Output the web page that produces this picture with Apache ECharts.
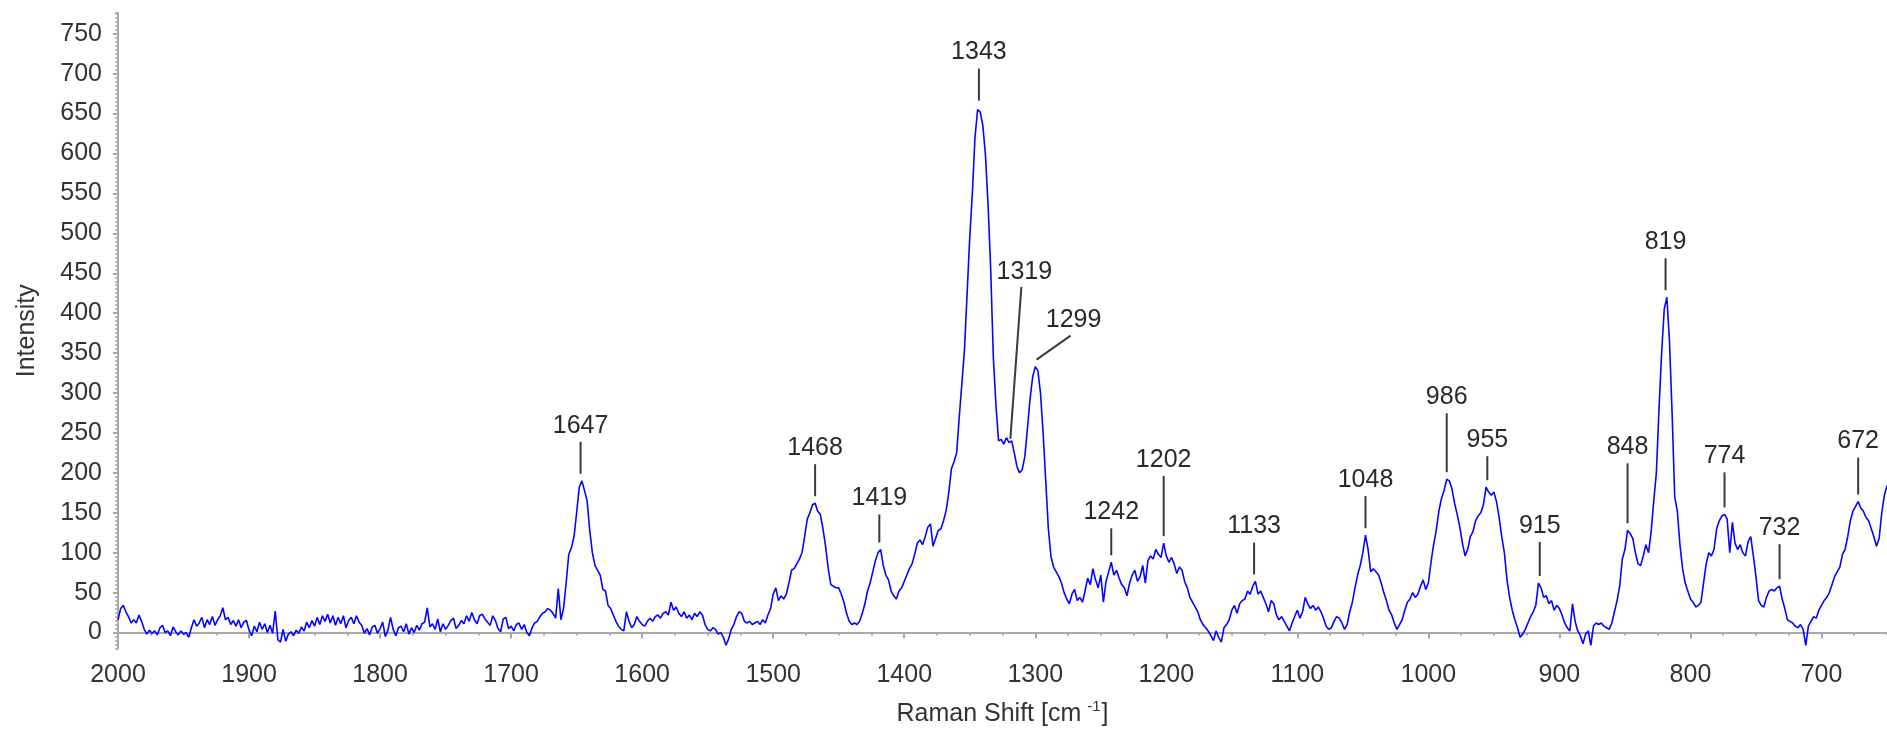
<!DOCTYPE html>
<html>
<head>
<meta charset="utf-8">
<title>Raman spectrum</title>
<script src="https://cdn.jsdelivr.net/npm/echarts@6/dist/echarts.min.js"></script>
<style>
  html, body { margin: 0; padding: 0; background: #ffffff; overflow: hidden; }
  #chart { width: 1887px; height: 732px; }
</style>
</head>
<body>
<div id="chart"></div>
<script>
// Spectrum sampled every 2 cm-1, running from high to low Raman shift.
const SHIFT_START = 2000;
const SHIFT_STEP = 2;

// 2000 -> 1702 cm-1 (flat, noisy baseline)
const intensity2000to1702 = [
  16, 30, 34, 26, 20, 12, 16, 12, 22, 14,
  4, -2, 3, -1, 2, -3, 6, 9, 0, 2,
  -4, 7, 1, -3, 2, -2, 0, -6, 6, 16,
  8, 12, 19, 6, 16, 10, 20, 9, 16, 21,
  31, 16, 19, 10, 15, 8, 16, 6, 13, 15,
  3, -4, 8, 1, 13, 4, 11, 0, 9, -1,
  27, -9, -12, 4, -11, -2, 1, -4, 3, -1,
  7, 2, 13, 6, 15, 8, 19, 10, 21, 14,
  23, 12, 21, 9, 19, 11, 21, 6, 15, 19,
  11, 21, 13, 9, -1, 5, -3, 7, 9, -1,
  5, 13, -5, 3, 19, 4, -4, 6, 8, 1,
  11, -2, 6, 0, 9, 3, 11, 13, 31, 7,
  11, 4, 17, 1, 11, 4, 9, 15, 18, 5,
  9, 15, 11, 21, 14, 25, 16, 11, 21, 23,
  17, 13, 9, 21, 15, 5, 1, 17, 19, 5
];

// 1700 -> 1402 cm-1 (amide I, CH2 bending)
const intensity1700to1402 = [
  8, 2, 10, 12, 4, 10, 0, -4, 6, 12,
  14, 20, 24, 26, 30, 28, 24, 18, 55, 16,
  30, 62, 98, 106, 120, 150, 182, 190, 178, 165,
  128, 100, 84, 78, 72, 54, 52, 34, 30, 22,
  14, 8, 4, 2, 26, 14, 6, 10, 20, 14,
  10, 8, 14, 18, 14, 20, 22, 18, 24, 26,
  22, 38, 28, 32, 24, 20, 26, 18, 22, 16,
  24, 20, 26, 22, 10, 4, 2, 6, 4, -2,
  0, -6, -16, -8, 4, 10, 20, 26, 24, 14,
  12, 14, 10, 12, 14, 10, 16, 12, 22, 30,
  48, 56, 40, 46, 42, 48, 62, 78, 80, 86,
  92, 100, 120, 142, 150, 160, 162, 152, 148, 130,
  108, 80, 60, 58, 56, 56, 48, 38, 24, 14,
  10, 12, 10, 14, 24, 36, 52, 62, 76, 90,
  100, 104, 84, 72, 66, 52, 46, 42, 52, 56
];

// 1400 -> 1102 cm-1 (main band at 1343 and its shoulders)
const intensity1400to1102 = [
  64, 72, 80, 86, 98, 112, 116, 110, 120, 132,
  136, 108, 118, 128, 130, 140, 153, 175, 205, 214,
  225, 270, 312, 355, 425, 495, 550, 620, 655, 652,
  635, 598, 535, 455, 345, 285, 240, 242, 236, 244,
  238, 240, 225, 208, 200, 204, 220, 255, 292, 320,
  333, 328, 300, 250, 190, 130, 95, 82, 76, 70,
  62, 50, 42, 36, 48, 54, 40, 44, 38, 52,
  68, 60, 80, 66, 56, 72, 38, 64, 76, 88,
  72, 78, 68, 60, 56, 46, 62, 72, 78, 64,
  70, 84, 62, 90, 96, 92, 104, 98, 94, 112,
  96, 88, 94, 86, 74, 82, 78, 64, 56, 44,
  38, 32, 26, 16, 10, 6, 2, -4, -10, 2,
  -6, -12, 6, 10, 16, 28, 34, 24, 36, 40,
  42, 52, 48, 58, 64, 48, 52, 44, 36, 26,
  40, 36, 22, 16, 20, 14, 8, 2, 12, 20
];

// 1100 -> 802 cm-1
const intensity1100to802 = [
  28, 18, 26, 44, 36, 30, 34, 28, 32, 26,
  18, 8, 4, 6, 14, 20, 18, 12, 4, 10,
  26, 38, 56, 72, 84, 100, 122, 104, 76, 80,
  76, 72, 62, 50, 40, 28, 22, 12, 4, 10,
  16, 28, 38, 42, 50, 44, 48, 58, 66, 54,
  62, 88, 110, 128, 152, 168, 178, 192, 190, 180,
  162, 148, 132, 112, 96, 104, 120, 126, 140, 146,
  150, 160, 182, 176, 172, 176, 164, 144, 120, 100,
  66, 44, 28, 16, 6, -6, -2, 4, 12, 20,
  26, 34, 62, 56, 44, 46, 36, 40, 28, 34,
  30, 22, 12, 6, 2, 36, 14, 2, -4, -14,
  -2, 2, -16, 8, 12, 10, 12, 8, 6, 4,
  12, 26, 40, 58, 92, 104, 128, 124, 118, 100,
  86, 84, 96, 110, 100, 126, 165, 200, 280, 350,
  405, 420, 365, 275, 170, 152, 110, 80, 62, 52
];

// 800 -> 650 cm-1
const intensity800to650 = [
  42, 38, 32, 34, 38, 62, 86, 100, 96, 104,
  130, 140, 146, 148, 142, 100, 138, 112, 104, 110,
  100, 96, 114, 120, 96, 70, 40, 34, 32, 44,
  52, 54, 52, 56, 58, 42, 30, 16, 14, 12,
  8, 6, 10, 4, -16, 8, 14, 20, 18, 28,
  34, 40, 44, 50, 60, 70, 76, 82, 98, 104,
  120, 140, 152, 158, 164, 156, 152, 144, 140, 130,
  120, 108, 118, 150, 172, 184
];

// Assigned band positions (cm-1)
const peakLabels = [1647, 1468, 1419, 1343, 1319, 1299, 1242, 1202, 1133,
                    1048, 986, 955, 915, 848, 819, 774, 732, 672];

// Axis tick labels
const xTickValues = [2000, 1900, 1800, 1700, 1600, 1500, 1400, 1300, 1200, 1100, 1000, 900, 800, 700];
const yTickValues = [0, 50, 100, 150, 200, 250, 300, 350, 400, 450, 500, 550, 600, 650, 700, 750];

// ---- build the series ----
const intensity = [].concat(intensity2000to1702, intensity1700to1402,
  intensity1400to1102, intensity1100to802, intensity800to650);
const spectrum = intensity.map((v, i) => [SHIFT_START - i * SHIFT_STEP, v]);

// height of the curve under a band label
function bandTop(shift) {
  let best = -Infinity;
  spectrum.forEach(([s, v]) => {
    if (Math.abs(s - shift) <= 1 && v > best) best = v;
  });
  return best;
}

// leader-line layout (pixels); crowded bands get longer or slanted leaders
const calloutDefault = { gap: 7, dx: 0, rise: 32, tdx: 0, textGap: 16 };
const calloutOverrides = {
  1343: { gap: 9 },
  1419: { rise: 28 },
  1319: { gap: 2, dx: 11, rise: 152, tdx: 3, textGap: 15 },
  1299: { gap: 7, dx: 34, rise: 24, tdx: 3, textGap: 16 },
  1242: { rise: 27 },
  1202: { rise: 60 },
  986:  { rise: 59 },
  955:  { rise: 24 },
  915:  { rise: 34 },
  848:  { rise: 60 },
  774:  { rise: 35 },
  732:  { rise: 35 },
  672:  { rise: 37 }
};

const FONT = '"Liberation Sans", Arial, Helvetica, sans-serif';
const AXIS_GRAY = '#a9a9a9';
const TEXT = '#333333';

const chart = echarts.init(document.getElementById('chart'), null, { renderer: 'canvas' });

chart.setOption({
  animation: false,
  backgroundColor: '#ffffff',
  textStyle: { fontFamily: FONT },
  grid: { left: 118, right: 0, top: 13, bottom: 80.5, containLabel: false },
  xAxis: [
    {
      type: 'value',
      inverse: true,
      min: 650,
      max: 2000,
      position: 'bottom',
      name: '{t|Raman Shift [cm}{s|-1}{t|]}',
      nameLocation: 'middle',
      nameGap: 51,
      nameTextStyle: {
        rich: {
          t: { fontSize: 25, lineHeight: 30, color: TEXT, fontFamily: FONT },
          s: { fontSize: 15, lineHeight: 17, color: TEXT, fontFamily: FONT,
               verticalAlign: 'top', padding: [0, 1, 0, 6] }
        }
      },
      axisLine: { show: true, lineStyle: { color: AXIS_GRAY, width: 2 } },
      axisTick: { show: true, customValues: xTickValues, length: 6, inside: false,
                  lineStyle: { color: AXIS_GRAY, width: 2 } },
      axisLabel: { show: true, customValues: xTickValues, margin: 14,
                   fontSize: 25, color: TEXT, fontFamily: FONT,
                   formatter: v => String(v) },
      splitLine: { show: false },
      minorTick: { show: false }
    },
    {
      // minor ticks every 25 cm-1
      type: 'value',
      inverse: true,
      min: 650,
      max: 2000,
      interval: 25,
      position: 'bottom',
      axisLine: { show: false },
      axisTick: { show: true, length: 3, lineStyle: { color: AXIS_GRAY, width: 2 } },
      axisLabel: { show: false },
      splitLine: { show: false }
    }
  ],
  yAxis: [
    {
      type: 'value',
      min: -20,
      max: 776,
      position: 'left',
      name: 'Intensity',
      nameLocation: 'middle',
      nameGap: 78,
      nameTextStyle: { fontSize: 25, color: TEXT, fontFamily: FONT },
      axisLine: { show: true, lineStyle: { color: AXIS_GRAY, width: 2 } },
      axisTick: { show: true, customValues: yTickValues, length: 5,
                  lineStyle: { color: AXIS_GRAY, width: 2 } },
      axisLabel: { show: true, customValues: yTickValues, margin: 16,
                   fontSize: 25, color: TEXT, fontFamily: FONT,
                   formatter: v => String(v) },
      splitLine: { show: false },
      minorTick: { show: false }
    },
    {
      // minor ticks every 5 counts
      type: 'value',
      min: -20,
      max: 776,
      interval: 5,
      position: 'left',
      axisLine: { show: false },
      axisTick: { show: true, length: 3, lineStyle: { color: AXIS_GRAY, width: 1.5 } },
      axisLabel: { show: false },
      splitLine: { show: false }
    }
  ],
  series: [
    {
      name: 'Spectrum',
      type: 'line',
      xAxisIndex: 0,
      yAxisIndex: 0,
      data: spectrum,
      showSymbol: false,
      symbol: 'none',
      lineStyle: { color: '#0505ff', width: 1.6 },
      z: 3
    },
    {
      name: 'Bands',
      type: 'custom',
      xAxisIndex: 0,
      yAxisIndex: 0,
      silent: true,
      clip: false,
      z: 5,
      data: peakLabels.map(s => [s, bandTop(s)]),
      renderItem(params, api) {
        const shift = api.value(0);
        const p = api.coord([shift, api.value(1)]);
        const lay = Object.assign({}, calloutDefault, calloutOverrides[shift] || {});
        const x0 = p[0];
        const y0 = p[1] - lay.gap;
        const x1 = x0 + lay.dx;
        const y1 = y0 - lay.rise;
        return {
          type: 'group',
          children: [
            {
              type: 'line',
              shape: { x1: x0, y1: y0, x2: x1, y2: y1 },
              style: { stroke: '#3a3a3a', lineWidth: 2 }
            },
            {
              type: 'text',
              x: x1 + lay.tdx,
              y: y1 - lay.textGap,
              style: {
                text: String(shift),
                font: '25px ' + FONT,
                fill: '#2a2a2a',
                align: 'center',
                verticalAlign: 'middle'
              }
            }
          ]
        };
      }
    }
  ]
});
</script>
</body>
</html>
